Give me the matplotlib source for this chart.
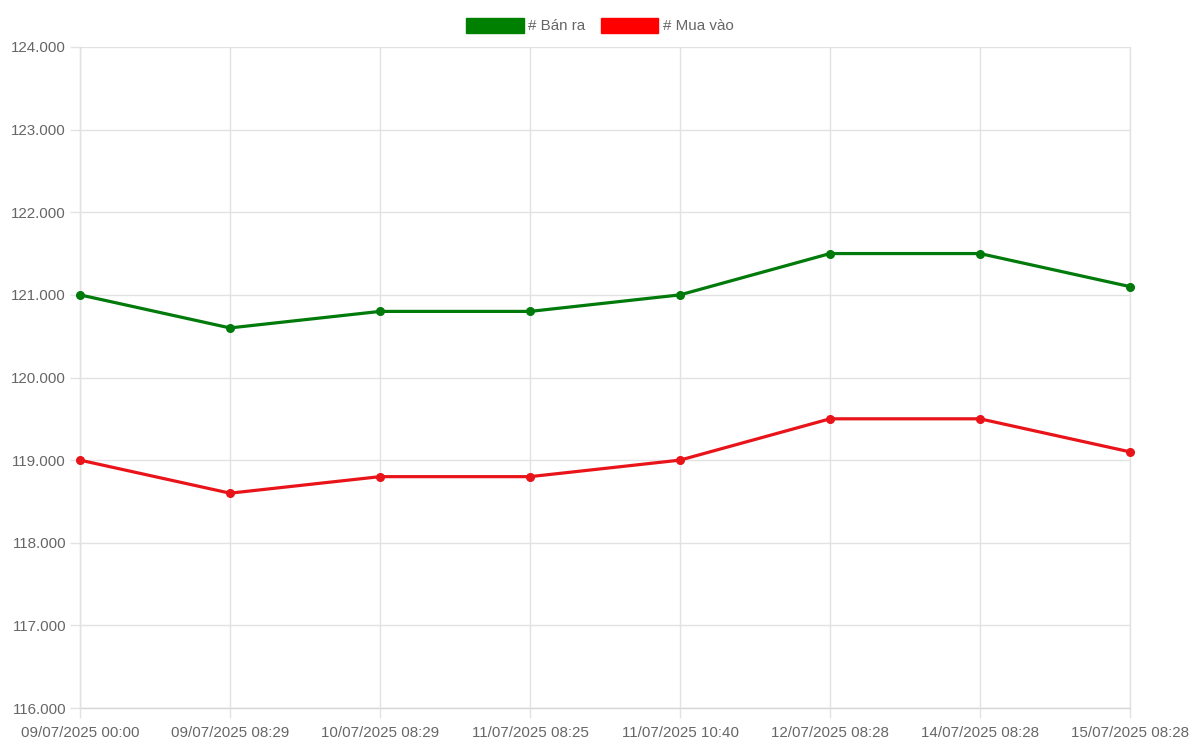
import matplotlib
matplotlib.use("Agg")
import matplotlib.pyplot as plt
from matplotlib.patches import Patch
from matplotlib.ticker import FuncFormatter

plt.rcParams["font.family"] = ["Liberation Sans", "DejaVu Sans"]

# data
labels = ["09/07/2025 00:00", "09/07/2025 08:29", "10/07/2025 08:29",
          "11/07/2025 08:25", "11/07/2025 10:40", "12/07/2025 08:28",
          "14/07/2025 08:28", "15/07/2025 08:28"]
ban_ra = [121000, 120600, 120800, 120800, 121000, 121500, 121500, 121100]
mua_vao = [119000, 118600, 118800, 118800, 119000, 119500, 119500, 119100]
y_ticks = [116000, 117000, 118000, 119000, 120000, 121000, 122000, 123000, 124000]

GREEN = "#007a0a"
RED = "#e8141a"
GRID = "#e2e2e2"
TEXT = "#666666"

fig = plt.figure(figsize=(12, 7.49), dpi=100)
ax = fig.add_axes([80 / 1200, 1 - 708 / 749, 1050 / 1200, 661 / 749])

x = list(range(len(labels)))
ax.plot(x, ban_ra, color=GREEN, lw=2.3, marker="o", ms=5.5, zorder=3, clip_on=False)
ax.plot(x, mua_vao, color=RED, lw=2.3, marker="o", ms=5.5, zorder=3, clip_on=False)

ax.set_xlim(0, len(labels) - 1)
ax.set_ylim(y_ticks[0], y_ticks[-1])
ax.set_xticks(x)
ax.set_xticklabels(labels)
ax.set_yticks(y_ticks)
ax.yaxis.set_major_formatter(FuncFormatter(lambda v, p: f"{v:,.0f}".replace(",", ".")))

ax.grid(True, color=GRID, lw=1)
# outer edge lines are drawn like grid lines in the original
ax.axvline(len(labels) - 1, color=GRID, lw=1, zorder=1, clip_on=False)
ax.axhline(y_ticks[0], color="#d6d6d6", lw=1, zorder=1, clip_on=False)
ax.axvline(0, color="#d6d6d6", lw=1, zorder=1, clip_on=False)
for s in ax.spines.values():
    s.set_visible(False)
ax.tick_params(axis="both", length=7, width=1, color=GRID, labelcolor=TEXT,
               labelsize=10.9)
ax.tick_params(axis="x", pad=6)
ax.tick_params(axis="y", pad=3)

handles = [Patch(facecolor="green", edgecolor="green", label="# Bán ra"),
           Patch(facecolor="red", edgecolor="red", label="# Mua vào")]
fig.legend(handles=handles, loc="upper center", bbox_to_anchor=(0.5, 1 - 4 / 749),
           ncol=2, frameon=False, fontsize=10.9, handlelength=3.8, handleheight=1.2,
           handletextpad=0.3, columnspacing=1.0, labelcolor=TEXT)

fig.savefig("out.png", dpi=100)
